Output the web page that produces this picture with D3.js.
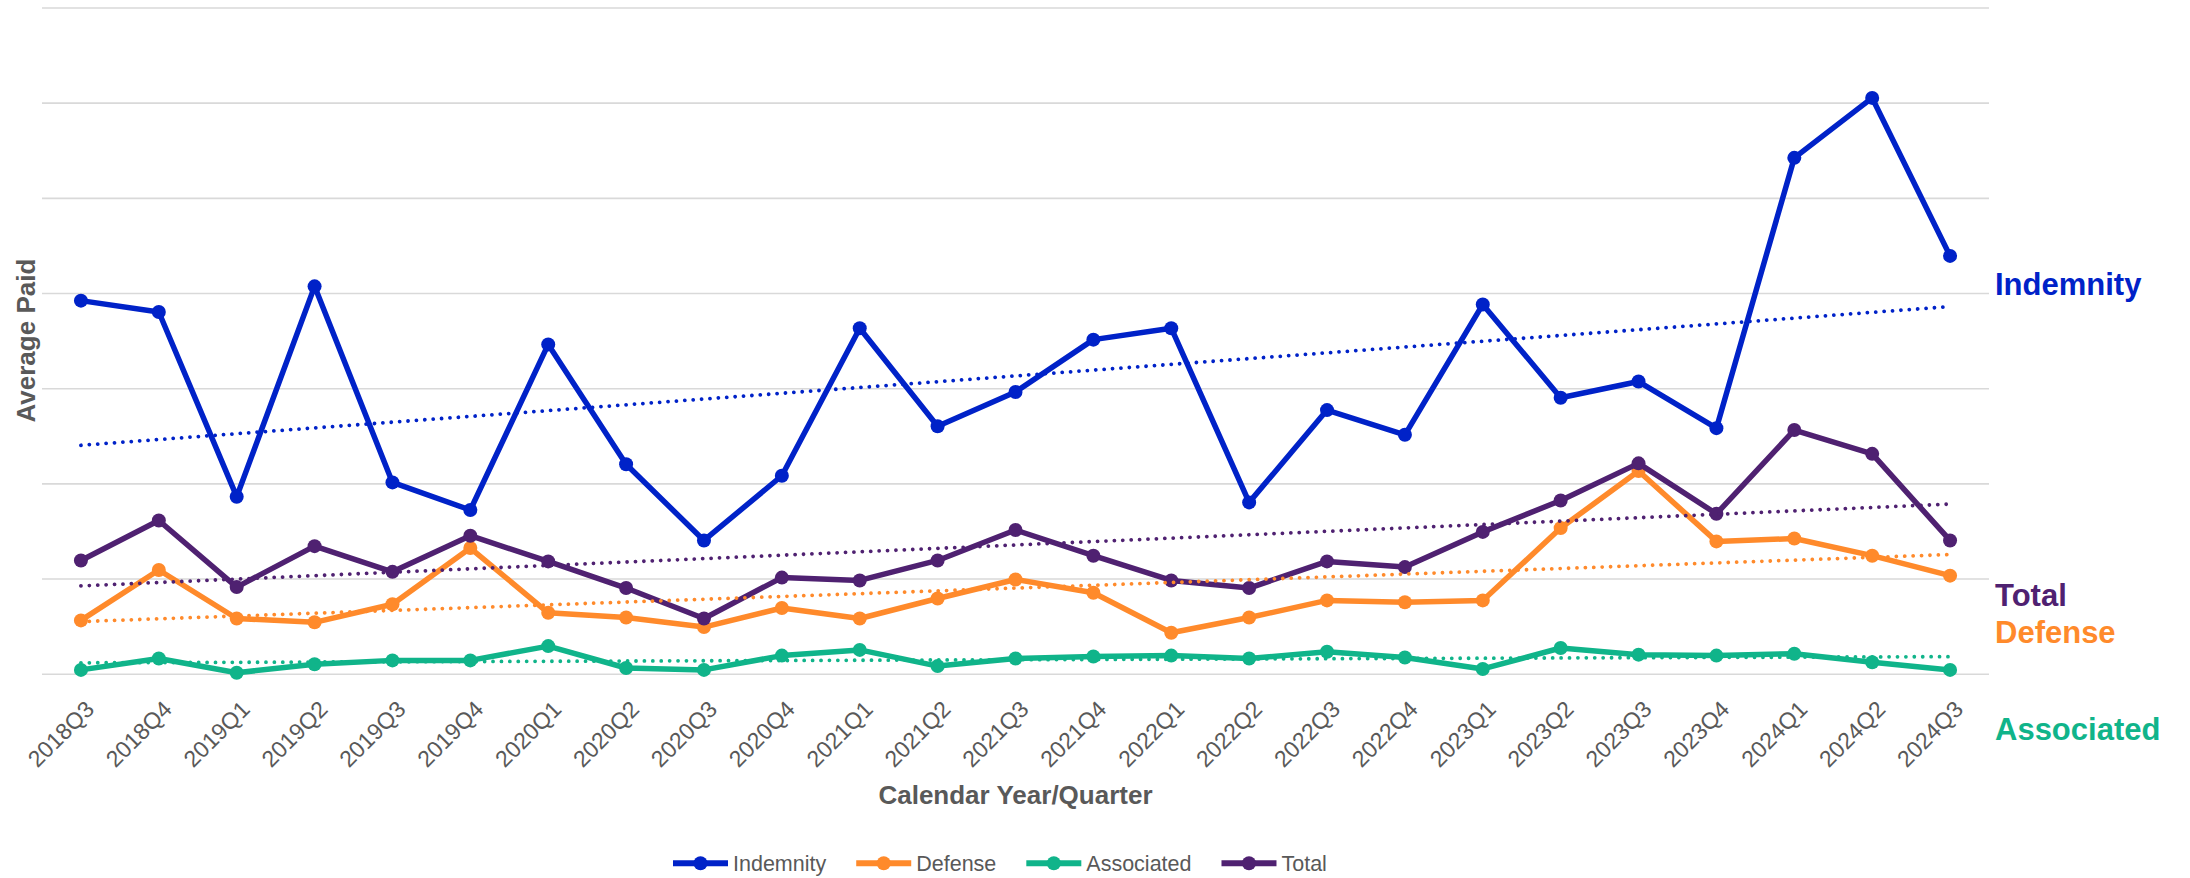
<!DOCTYPE html>
<html>
<head>
<meta charset="utf-8">
<script src="https://cdn.jsdelivr.net/npm/d3@7"></script>
<style>
  html, body { margin: 0; padding: 0; background: #ffffff; }
  svg { display: block; font-family: "Liberation Sans", Arial, sans-serif; }
</style>
</head>
<body>
<svg id="chart" width="2190" height="878"></svg>
<script>
// Quarterly average paid amounts by component (vertical unit = one gridline step)
const quarters = [
  "2018Q3","2018Q4",
  "2019Q1","2019Q2","2019Q3","2019Q4",
  "2020Q1","2020Q2","2020Q3","2020Q4",
  "2021Q1","2021Q2","2021Q3","2021Q4",
  "2022Q1","2022Q2","2022Q3","2022Q4",
  "2023Q1","2023Q2","2023Q3","2023Q4",
  "2024Q1","2024Q2","2024Q3"
];
const indemnity = [3.92,3.80,1.86,4.07,2.01,1.72,3.46,2.20,1.40,2.08,3.63,2.60,2.96,3.51,3.63,1.80,2.77,2.51,3.88,2.90,3.07,2.58,5.42,6.05,4.39];
const defense   = [0.56,1.09,0.58,0.54,0.73,1.32,0.64,0.59,0.49,0.69,0.58,0.79,0.99,0.85,0.43,0.59,0.77,0.75,0.77,1.53,2.13,1.39,1.42,1.24,1.03];
const associated= [0.04,0.16,0.01,0.10,0.14,0.14,0.29,0.06,0.04,0.19,0.25,0.08,0.16,0.18,0.19,0.16,0.23,0.17,0.05,0.27,0.20,0.19,0.21,0.12,0.04];
const total     = [1.19,1.61,0.91,1.34,1.07,1.45,1.18,0.90,0.58,1.01,0.98,1.19,1.51,1.24,0.98,0.90,1.18,1.12,1.49,1.82,2.21,1.68,2.56,2.31,1.40];

const yTicks = [0,1,2,3,4,5,6,7];
const seriesNames  = ["Indemnity","Defense","Associated","Total"];
const seriesValues = [indemnity, defense, associated, total];
const seriesColors = ["#0022c8","#ff8a2b","#10b48a","#4f2171"];

const xTitle = "Calendar Year/Quarter";
const yTitle = "Average Paid";

// End-of-series labels at the right of the plot
const endLabels = [
  { name: "Indemnity",  baseline: 295 },
  { name: "Total",      baseline: 605.5 },
  { name: "Defense",    baseline: 642.5 },
  { name: "Associated", baseline: 740 }
];

const svg = d3.select("#chart");
const plot = { left: 42, right: 1989, top: 7.5, bottom: 673.7 };
const textGray = "#595959";

const x = d3.scalePoint().domain(quarters).range([plot.left, plot.right]).padding(0.5);
const y = d3.scaleLinear().domain([0, 7]).range([plot.bottom, plot.top]);

// Horizontal gridlines
const grid = svg.append("g")
  .attr("transform", `translate(${plot.left},0)`)
  .call(d3.axisLeft(y).tickValues(yTicks).tickSize(-(plot.right - plot.left)).tickFormat(""));
grid.select(".domain").remove();
grid.selectAll(".tick line").attr("stroke", "#d9d9d9").attr("stroke-width", 1.6);

// Category axis with diagonal labels
const xAxis = svg.append("g")
  .attr("transform", `translate(0,${plot.bottom})`)
  .call(d3.axisBottom(x).tickSize(0));
xAxis.select(".domain").remove();
xAxis.selectAll(".tick text")
  .attr("x", 0).attr("y", 0).attr("dy", 0)
  .attr("transform", "translate(14,37) rotate(-45)")
  .style("text-anchor", "end")
  .attr("fill", textGray)
  .style("font-size", "23px")
  .style("font-family", "'Liberation Sans', Arial, sans-serif");

// Axis titles
svg.append("text")
  .attr("x", (plot.left + plot.right) / 2)
  .attr("y", 804)
  .attr("text-anchor", "middle")
  .attr("fill", textGray)
  .style("font-size", "26px")
  .style("font-weight", "bold")
  .text(xTitle);

svg.append("text")
  .attr("transform", `translate(35,${(plot.top + plot.bottom) / 2}) rotate(-90)`)
  .attr("text-anchor", "middle")
  .attr("fill", textGray)
  .style("font-size", "26px")
  .style("font-weight", "bold")
  .text(yTitle);

// Series lines and markers
const line = d3.line()
  .x((d, i) => x(quarters[i]))
  .y(d => y(d));

seriesValues.forEach((vals, k) => {
  const g = svg.append("g").attr("class", "series");
  g.append("path")
    .datum(vals)
    .attr("d", line)
    .attr("fill", "none")
    .attr("stroke", seriesColors[k])
    .attr("stroke-width", 5.5)
    .attr("stroke-linejoin", "round");
  g.selectAll("circle")
    .data(vals)
    .join("circle")
    .attr("cx", (d, i) => x(quarters[i]))
    .attr("cy", d => y(d))
    .attr("r", 7)
    .attr("fill", seriesColors[k]);
});

// Least-squares linear trendlines, dotted
function linearFit(vals) {
  const n = vals.length;
  const xs = d3.range(n);
  const mx = d3.mean(xs), my = d3.mean(vals);
  let sxy = 0, sxx = 0;
  xs.forEach((xi, i) => { sxy += (xi - mx) * (vals[i] - my); sxx += (xi - mx) * (xi - mx); });
  const slope = sxy / sxx;
  const intercept = my - slope * mx;
  return [intercept, intercept + slope * (n - 1)];
}

seriesValues.forEach((vals, k) => {
  const [v0, v1] = linearFit(vals);
  svg.append("line")
    .attr("x1", x(quarters[0]))
    .attr("y1", y(v0))
    .attr("x2", x(quarters[quarters.length - 1]))
    .attr("y2", y(v1))
    .attr("stroke", seriesColors[k])
    .attr("stroke-width", 3.8)
    .attr("stroke-linecap", "round")
    .attr("stroke-dasharray", "0.01 8.4");
});

// Right-hand series labels
endLabels.forEach(l => {
  svg.append("text")
    .attr("x", 1995)
    .attr("y", l.baseline)
    .attr("fill", seriesColors[seriesNames.indexOf(l.name)])
    .style("font-size", "31px")
    .style("font-weight", "bold")
    .text(l.name);
});

// Bottom legend
const legend = svg.append("g").attr("transform", "translate(673,863.3)");
let lx = 0;
seriesNames.forEach((name, k) => {
  const item = legend.append("g").attr("transform", `translate(${lx},0)`);
  item.append("line")
    .attr("x1", 0).attr("x2", 55).attr("y1", 0).attr("y2", 0)
    .attr("stroke", seriesColors[k]).attr("stroke-width", 6);
  item.append("circle")
    .attr("cx", 27.5).attr("cy", 0).attr("r", 7)
    .attr("fill", seriesColors[k]);
  const t = item.append("text")
    .attr("x", 60).attr("y", 0).attr("dy", "0.35em")
    .attr("fill", textGray)
    .style("font-size", "21.5px")
    .text(name);
  lx += 60 + t.node().getComputedTextLength() + 30;
});
</script>
</body>
</html>
